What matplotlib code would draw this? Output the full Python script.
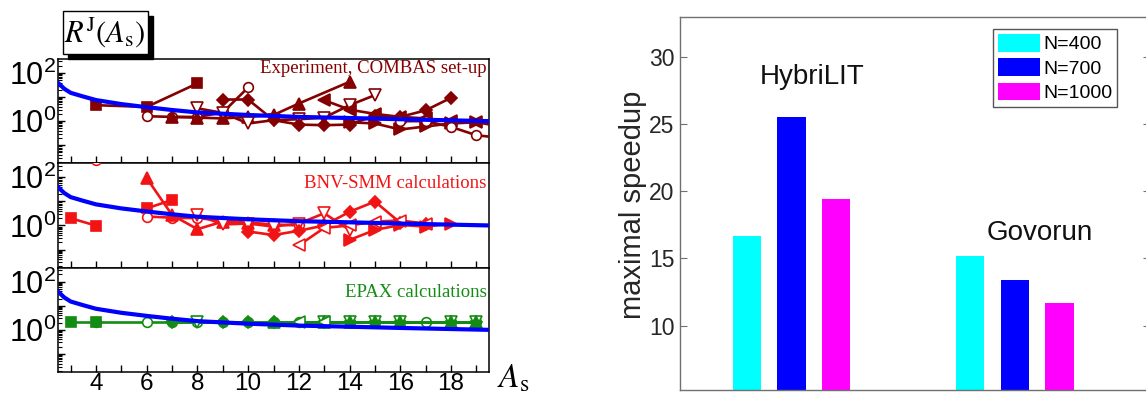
import numpy as np
import matplotlib
matplotlib.use("Agg")
import matplotlib.pyplot as plt
from matplotlib.ticker import LogLocator, FuncFormatter, MultipleLocator, NullFormatter
from matplotlib.patches import Rectangle

plt.rcParams['font.family'] = ['Liberation Sans', 'DejaVu Sans']

### left figure: ratio R^J(A_s), three stacked panels

# blue reference curve (same in every panel)
fit_A = [2.5, 2.75, 3, 3.5, 4, 5, 6, 7, 8, 10, 12, 14, 16, 18, 19.5]
fit_R = [39, 22, 15, 10.5, 7.5, 5.1, 3.8, 2.9, 2.3, 1.8, 1.5, 1.35, 1.2, 1.08, 1.0]

# experiment, COMBAS set-up
exp_sq_A, exp_sq_R = [4, 6, 8], [4.6, 3.9, 37]
exp_ci_A, exp_ci_R = [6, 7, 8, 9, 10], [1.6, 1.5, 1.5, 2.3, 25]
exp_up_A, exp_up_R = [7, 8, 9, 10, 11, 12, 14], [1.5, 1.4, 1.3, 1.5, 1.8, 5.4, 43]
exp_dn_A, exp_dn_R = [8, 9, 10, 11, 12, 13, 14, 15], [3.4, 2.2, 0.8, 1.1, 1.2, 1.4, 4.6, 12]
exp_di_A, exp_di_R = [9, 10, 11, 12, 13, 14, 15, 16, 17, 18], [7.9, 7.9, 1.1, 0.72, 0.68, 0.72, 1.7, 1.5, 2.8, 9.3]
exp_lf_A, exp_lf_R = [13, 14, 15, 16, 17, 18, 19], [7.4, 3.0, 2.0, 1.5, 1.3, 1.0, 0.9]
exp_rt_A, exp_rt_R = [14, 15, 16, 17, 18, 19, 20], [0.9, 0.8, 0.45, 0.6, 0.8, 0.9, 0.6]
exp_ci2_A, exp_ci2_R = [16, 17, 18, 19, 20], [1.0, 1.0, 0.58, 0.26, 0.2]

# BNV-SMM calculations
bnv_sq_A, bnv_sq_R = [3, 4], [2.0, 0.98]
bnv_sq2_A, bnv_sq2_R = [6, 7], [5.1, 11.5]
bnv_up_A, bnv_up_R = [6, 7, 8, 9, 10, 11], [92, 2.7, 0.7, 1.45, 1.3, 1.0]
bnv_ci_A, bnv_ci_R = [6, 7, 8, 9, 10, 11, 12], [2.35, 2.1, 2.0, 1.6, 1.3, 1.1, 1.0]
bnv_ci2_A, bnv_ci2_R = [4], [500]
bnv_dn_A, bnv_dn_R = [8, 9, 10, 11, 12, 13, 14], [2.7, 1.1, 1.2, 0.9, 1.2, 3.2, 0.65]
bnv_di_A, bnv_di_R = [10, 11, 12, 13, 14, 15, 16, 17], [0.56, 0.4, 0.6, 1.0, 3.7, 9.8, 1.3, 1.1]
bnv_lf_A, bnv_lf_R = [12, 13, 14, 15, 16, 17], [0.15, 0.79, 1.0, 1.45, 1.6, 1.2]
bnv_rt_A, bnv_rt_R = [14, 15, 16, 17, 18], [0.25, 0.65, 1.05, 0.9, 1.2]

# EPAX calculations
epx_ci_A = [4, 6, 7, 8, 9, 10, 11, 12, 13, 14, 15, 16, 17, 18, 19]
epx_ci_R = [2.1, 2.1, 2.1, 2.1, 2.1, 2.1, 2.1, 2.1, 2.1, 2.1, 2.1, 2.1, 2.1, 2.1, 2.1]
epx_sq_A, epx_sq_R = [3, 4], [2.1, 2.1]
epx_di_A = [7, 9, 10, 11, 13, 14, 15, 16, 18, 19]
epx_di_R = [2.1, 2.1, 2.1, 2.1, 2.1, 2.1, 2.1, 2.1, 2.1, 2.1]
epx_dn_A = [8, 13, 14, 15, 16, 18, 19]
epx_dn_R = [2.1, 2.1, 2.1, 2.1, 2.1, 2.1, 2.1]
epx_up_A = [11, 13, 14, 15, 16, 18, 19]
epx_up_R = [2.1, 2.1, 2.1, 2.1, 2.1, 2.1, 2.1]
epx_lf_A, epx_lf_R = [12, 13], [2.1, 2.1]

### right figure: maximal speedup
clusters = ['HybriLIT', 'Govorun']
sizes = ['N=400', 'N=700', 'N=1000']
speedup_400 = [16.7, 15.2]
speedup_700 = [25.5, 13.4]
speedup_1000 = [19.4, 11.7]

W, H = 1146, 401
fig = plt.figure(figsize=(W / 100, H / 100), dpi=100)


def px_rect(l, t, r, b):
    return [l / W, 1 - b / H, (r - l) / W, (b - t) / H]


def log_label(v, pos):
    e = int(round(np.log10(v)))
    if e % 2 == 0:
        return r"$\mathregular{10^{%d}}$" % e
    return ""


dark_red = '#850000'
red = '#f21414'
green = '#148c14'

panels = [
    (dark_red, 'Experiment, COMBAS set-up', 0.905, [
        ('s', True, exp_sq_A, exp_sq_R), ('o', False, exp_ci_A, exp_ci_R),
        ('^', True, exp_up_A, exp_up_R), ('v', False, exp_dn_A, exp_dn_R),
        ('D', True, exp_di_A, exp_di_R), ('<', True, exp_lf_A, exp_lf_R),
        ('>', True, exp_rt_A, exp_rt_R), ('o', False, exp_ci2_A, exp_ci2_R)]),
    (red, 'BNV-SMM calculations', 0.81, [
        ('s', True, bnv_sq_A, bnv_sq_R), ('s', True, bnv_sq2_A, bnv_sq2_R),
        ('o', False, bnv_ci_A, bnv_ci_R), ('o', False, bnv_ci2_A, bnv_ci2_R),
        ('^', True, bnv_up_A, bnv_up_R), ('v', False, bnv_dn_A, bnv_dn_R),
        ('D', True, bnv_di_A, bnv_di_R), ('<', False, bnv_lf_A, bnv_lf_R),
        ('>', True, bnv_rt_A, bnv_rt_R)]),
    (green, 'EPAX calculations', 0.765, [
        ('o', False, epx_ci_A, epx_ci_R), ('s', True, epx_sq_A, epx_sq_R),
        ('D', True, epx_di_A, epx_di_R), ('v', False, epx_dn_A, epx_dn_R),
        ('^', True, epx_up_A, epx_up_R), ('<', False, epx_lf_A, epx_lf_R)]),
]

msizes = {'s': 7, 'o': 7, '^': 8, 'v': 8, 'D': 6.5, '<': 8, '>': 8}
tops = [59, 163.3, 267.7]
ph = 104.3

for i, (col, title, ty, series) in enumerate(panels):
    ax = fig.add_axes(px_rect(58, tops[i], 489, tops[i] + ph))
    ax.set_yscale('log')
    for mk, filled, xs, ys in series:
        ax.plot(xs, ys, color=col, lw=1.9, marker=mk, ms=msizes[mk],
                mfc=col if filled else 'white', mec=col, mew=1.2, zorder=3)
    ax.plot(fit_A, fit_R, color='#0000ff', lw=3.0, zorder=5)
    ax.set_xlim(2.5, 19.5)
    ax.set_ylim(10 ** -1.75, 10 ** 2.58)
    ax.xaxis.set_major_locator(MultipleLocator(2))
    ax.xaxis.set_minor_locator(MultipleLocator(1))
    ax.yaxis.set_major_locator(LogLocator(base=10, numticks=10))
    ax.yaxis.set_minor_locator(LogLocator(base=10, subs=np.arange(2, 10), numticks=10))
    ax.yaxis.set_major_formatter(FuncFormatter(log_label))
    ax.yaxis.set_minor_formatter(NullFormatter())
    ax.tick_params(axis='x', which='both', direction='in', length=5, width=1,
                   labelbottom=(i == 2), labelsize=17.5, pad=1)
    ax.tick_params(axis='y', which='major', direction='in', length=5, width=1,
                   labelsize=22, pad=1.5)
    ax.tick_params(axis='y', which='minor', direction='in', length=3, width=0.8)
    for s in ax.spines.values():
        s.set_linewidth(1.1)
    ax.text(0.995, ty, title, transform=ax.transAxes, ha='right', va='center',
            color=col, fontsize=13.5, family='Liberation Serif')

# boxed label with drop shadow
fig.patches.append(Rectangle((68 / W, 1 - 58.5 / H), 85 / W, 42 / H,
                             transform=fig.transFigure, color='black', zorder=1))
fig.patches.append(Rectangle((63 / W, 1 - 53.5 / H), 85 / W, 42 / H,
                             transform=fig.transFigure, facecolor='white',
                             edgecolor='black', lw=1, zorder=2))
fig.text(105 / W, 1 - 32 / H, r"$R^{\mathrm{J}}(A_{\mathrm{s}})$", ha='center',
         va='center', fontsize=22, math_fontfamily='stix', zorder=3)
fig.text(497 / W, 1 - 363 / H, r"$A_{\mathrm{s}}$", ha='left', va='top',
         fontsize=24, math_fontfamily='stix')

### bar chart
ax2 = fig.add_axes(px_rect(680, 16.7, 1150, 390))
xpos = np.arange(1, len(clusters) + 1)
bar_cols = ['#00ffff', '#0000ff', '#ff00ff']
for off, vals, c, lab in zip([-0.2, 0.0, 0.2], [speedup_400, speedup_700, speedup_1000],
                             bar_cols, sizes):
    ax2.bar(xpos + off, vals, width=0.127, color=c, label=lab)
ax2.set_xlim(0.5, 2.605)
ax2.set_ylim(5.2, 33)
ax2.set_xticks([])
ax2.set_yticks([10, 15, 20, 25, 30])
ax2.tick_params(axis='y', direction='in', length=5, right=True, color='#707070',
                labelcolor='#262626', labelsize=16.5, pad=4)
for s in ax2.spines.values():
    s.set_color('#707070')
    s.set_linewidth(1)
ax2.text(1.09, 28.5, clusters[0], ha='center', va='center', fontsize=20, color='#111111')
ax2.text(2.112, 16.9, clusters[1], ha='center', va='center', fontsize=20, color='#111111')
fig.text(633 / W, 1 - 205 / H, 'maximal speedup', rotation=90, ha='center',
         va='center', fontsize=21, color='#262626')

leg = ax2.legend(loc='upper right', bbox_to_anchor=(1117 / W, 1 - 29 / H),
                 bbox_transform=fig.transFigure, fontsize=14, fancybox=False,
                 framealpha=1, edgecolor='#555555', borderaxespad=0,
                 handlelength=2.16, handleheight=1.03, handletextpad=0.15,
                 labelspacing=0.25, borderpad=0.25)
leg.get_frame().set_linewidth(1)

fig.savefig('out.png', dpi=100)
